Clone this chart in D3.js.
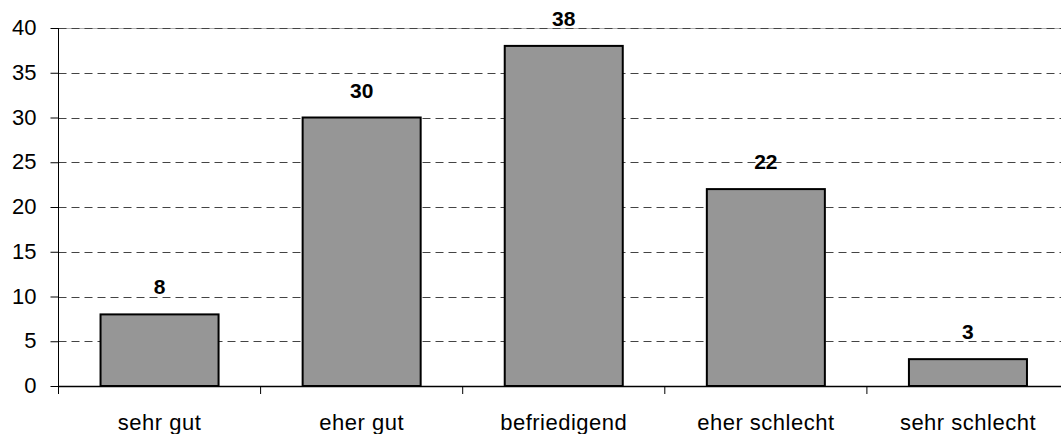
<!DOCTYPE html>
<html><head><meta charset="utf-8">
<script src="https://cdn.jsdelivr.net/npm/d3@7"></script>
<style>body{margin:0;background:#fff}svg{display:block}</style>
</head><body>
<svg id="c" width="1061" height="434"></svg>
<script>
const categories = ["sehr gut", "eher gut", "befriedigend", "eher schlecht", "sehr schlecht"];
const values = [8, 30, 38, 22, 3];
const yTicks = [0, 5, 10, 15, 20, 25, 30, 35, 40];

const svg = d3.select("#c");
const mLeft = 58.5, mRight = 1069, mTop = 28, mBottom = 386;
const font = "'Liberation Sans', Arial, sans-serif";

const x = d3.scaleBand().domain(categories).range([mLeft, mRight]).paddingInner(0.416).paddingOuter(0.208);
const y = d3.scaleLinear().domain([0, 40]).range([mBottom, mTop]);

// faint top border
svg.append("line").attr("x1", mLeft).attr("x2", 1061)
  .attr("y1", Math.round(y(40)) + 0.5).attr("y2", Math.round(y(40)) + 0.5)
  .attr("stroke", "#b0b0b0");

// gridlines
svg.append("g").selectAll("line").data(yTicks.filter(d => d > 0)).join("line")
  .attr("x1", mLeft).attr("x2", 1061)
  .attr("y1", d => Math.round(y(d)) + 0.5).attr("y2", d => Math.round(y(d)) + 0.5)
  .attr("stroke", "#444").attr("stroke-width", 1).attr("stroke-dasharray", "8,5");

// bars
svg.append("g").selectAll("rect").data(values).join("rect")
  .attr("x", (d, i) => x(categories[i]))
  .attr("y", d => y(d))
  .attr("width", x.bandwidth())
  .attr("height", d => y(0) - y(d))
  .attr("fill", "#969696").attr("stroke", "#000").attr("stroke-width", 2);

// value labels
svg.append("g").selectAll("text").data(values).join("text")
  .attr("x", (d, i) => x(categories[i]) + x.bandwidth() / 2)
  .attr("y", d => y(d) - 20)
  .attr("text-anchor", "middle")
  .attr("font-family", font).attr("font-weight", "bold").attr("font-size", 21)
  .text(d => d);

// y axis
const yAxis = d3.axisLeft(y).tickValues(yTicks).tickSize(8).tickPadding(14);
const gy = svg.append("g").attr("transform", `translate(${mLeft},0)`).call(yAxis);
gy.select(".domain").attr("d", `M0,${mTop}V${mBottom + 8}`).attr("stroke", "#000");
gy.selectAll(".tick line").attr("stroke", "#000");
gy.selectAll(".tick text").attr("font-family", font).attr("font-size", 22).attr("fill", "#000").attr("dy", "0.3em");

// x axis
const xAxis = d3.axisBottom(x).tickSize(0).tickPadding(28);
const gx = svg.append("g").attr("transform", `translate(0,${mBottom})`).call(xAxis);
gx.select(".domain").attr("d", `M${mLeft},0.5H1061`).attr("stroke", "#000").attr("stroke-width", 1.5);
gx.selectAll(".tick text").attr("font-family", font).attr("font-size", 22).attr("letter-spacing", "0.5px").attr("fill", "#000");
// category boundary ticks
const step = x.step();
svg.append("g").selectAll("line").data(d3.range(1, categories.length)).join("line")
  .attr("x1", i => mLeft + i * step).attr("x2", i => mLeft + i * step)
  .attr("y1", mBottom).attr("y2", mBottom + 8)
  .attr("stroke", "#000");
</script>
</body></html>
